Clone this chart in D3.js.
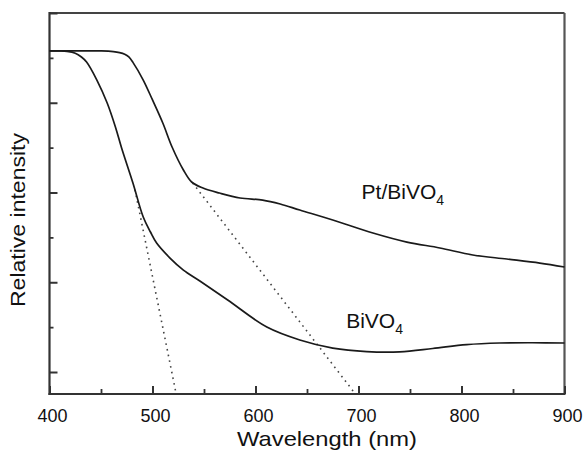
<!DOCTYPE html>
<html>
<head>
<meta charset="utf-8">
<script src="https://cdn.jsdelivr.net/npm/d3@7"></script>
<style>
  html, body { margin: 0; padding: 0; background: #fff; }
  svg { display: block; }
  text { font-family: "Liberation Sans", Arial, Helvetica, sans-serif; fill: #111; }
</style>
</head>
<body>
<div id="chart"></div>
<script>
// ---- data ----
const ptWavelength = [400, 430, 450, 457, 462, 468, 473, 477, 481, 491, 500, 510, 519, 530, 538, 549, 565, 585, 607, 624, 643, 675, 714, 747, 779, 811, 844, 876, 900];
const ptIntensity  = [3.577, 3.577, 3.577, 3.575, 3.570, 3.558, 3.540, 3.510, 3.450, 3.253, 3.031, 2.774, 2.507, 2.251, 2.117, 2.050, 1.994, 1.939, 1.916, 1.872, 1.805, 1.694, 1.549, 1.448, 1.382, 1.304, 1.259, 1.214, 1.170];

const biWavelength = [400, 410, 417, 425, 431, 436, 446, 456, 464, 470, 481, 491, 498, 504, 517, 530, 546, 573, 611, 643, 675, 708, 740, 772, 805, 837, 869, 900];
const biIntensity  = [3.577, 3.577, 3.572, 3.552, 3.510, 3.454, 3.253, 2.997, 2.730, 2.496, 2.106, 1.727, 1.560, 1.437, 1.270, 1.136, 1.014, 0.802, 0.501, 0.357, 0.267, 0.228, 0.225, 0.262, 0.305, 0.323, 0.326, 0.323];

// tangent (band-edge) extrapolation lines: [start, end]
const biTangentWl = [483, 523];
const biTangentI  = [2.03, -0.245];
const ptTangentWl = [539, 697];
const ptTangentI  = [2.106, -0.245];

const xMajorTicks = [400, 500, 600, 700, 800, 900];
const xMinorTicks = [450, 550, 650, 750, 850];
const yMajorTicks = [0, 1, 2, 3, 4];
const yMinorTicks = [0.5, 1.5, 2.5, 3.5];

const seriesLabels = [
  { name: "Pt/BiVO", sub: "4", wl: 703, val: 1.93 },
  { name: "BiVO", sub: "4", wl: 688, val: 0.49 }
];

// ---- layout ----
const W = 583, H = 453;
const mLeft = 49.5, mRight = 564.5, mTop = 13, mBottom = 394;

const svg = d3.select("#chart").append("svg").attr("width", W).attr("height", H);

const x = d3.scaleLinear().domain([400, 900]).range([mLeft, mRight]);
const y = d3.scaleLinear().domain([-0.245, 4]).range([mBottom, mTop]);

const axisColor = "#333";

// frame top and right
svg.append("line").attr("x1", mLeft).attr("x2", mRight).attr("y1", mTop).attr("y2", mTop)
  .attr("stroke", "#444").attr("stroke-width", 2);
svg.append("line").attr("x1", mRight).attr("x2", mRight).attr("y1", mTop).attr("y2", mBottom)
  .attr("stroke", "#555").attr("stroke-width", 2.2);

// x axis (ticks inward)
const gx = svg.append("g").attr("transform", `translate(0,${mBottom})`);
gx.call(d3.axisBottom(x).tickValues(xMajorTicks).tickSize(-8).tickPadding(14).tickFormat(d3.format("d")));
gx.call(g => g.select(".domain").remove());
gx.selectAll(".tick line").attr("stroke", axisColor).attr("stroke-width", 2);
gx.selectAll(".tick text").attr("font-size", 18).attr("fill", "#111")
  .attr("font-family", '"Liberation Sans", Arial, sans-serif').attr("dx", 2.5).attr("dy", "0.75em");
const gxm = svg.append("g").attr("transform", `translate(0,${mBottom})`);
gxm.call(d3.axisBottom(x).tickValues(xMinorTicks).tickSize(-5).tickFormat(""));
gxm.call(g => g.select(".domain").remove());
gxm.selectAll(".tick line").attr("stroke", axisColor).attr("stroke-width", 1.8);

// y axis (ticks inward, no labels)
const gy = svg.append("g").attr("transform", `translate(${mLeft},0)`);
gy.call(d3.axisLeft(y).tickValues(yMajorTicks).tickSize(-8).tickFormat(""));
gy.call(g => g.select(".domain").remove());
gy.selectAll(".tick line").attr("stroke", axisColor).attr("stroke-width", 2);
const gym = svg.append("g").attr("transform", `translate(${mLeft},0)`);
gym.call(d3.axisLeft(y).tickValues(yMinorTicks).tickSize(-4).tickFormat(""));
gym.call(g => g.select(".domain").remove());
gym.selectAll(".tick line").attr("stroke", axisColor).attr("stroke-width", 1.8);

// axis lines
svg.append("line").attr("x1", mLeft - 1).attr("x2", mRight + 1).attr("y1", mBottom).attr("y2", mBottom)
  .attr("stroke", axisColor).attr("stroke-width", 2.2);
svg.append("line").attr("x1", mLeft).attr("x2", mLeft).attr("y1", mTop - 1).attr("y2", mBottom + 1)
  .attr("stroke", axisColor).attr("stroke-width", 2.2);

// tangent dotted lines
function tangent(wl, iv) {
  svg.append("path")
    .attr("d", d3.line().x(d => x(d[0])).y(d => y(d[1]))(wl.map((w, i) => [w, iv[i]])))
    .attr("fill", "none").attr("stroke", "#444").attr("stroke-width", 1.6)
    .attr("stroke-dasharray", "1.6,4.2");
}
tangent(biTangentWl, biTangentI);
tangent(ptTangentWl, ptTangentI);

// curves
const line = d3.line().x(d => x(d[0])).y(d => y(d[1])).curve(d3.curveCatmullRom.alpha(0.5));
function curve(wl, iv) {
  svg.append("path")
    .attr("d", line(wl.map((w, i) => [w, iv[i]])))
    .attr("fill", "none").attr("stroke", "#1a1a1a").attr("stroke-width", 1.7);
}
curve(ptWavelength, ptIntensity);
curve(biWavelength, biIntensity);

// series labels
seriesLabels.forEach(s => {
  const t = svg.append("text").attr("x", x(s.wl)).attr("y", y(s.val))
    .attr("font-size", 21).attr("fill", "#111");
  t.append("tspan").text(s.name);
  t.append("tspan").text(s.sub).attr("font-size", 14).attr("dy", 6);
});

// axis titles
svg.append("text").attr("x", 327).attr("y", 446).attr("text-anchor", "middle")
  .attr("font-size", 21).attr("textLength", 180).attr("lengthAdjust", "spacingAndGlyphs")
  .text("Wavelength (nm)");
svg.append("text").attr("transform", "translate(25,220) rotate(-90)").attr("text-anchor", "middle")
  .attr("font-size", 21).attr("textLength", 174).attr("lengthAdjust", "spacingAndGlyphs")
  .text("Relative intensity");
</script>
</body>
</html>
